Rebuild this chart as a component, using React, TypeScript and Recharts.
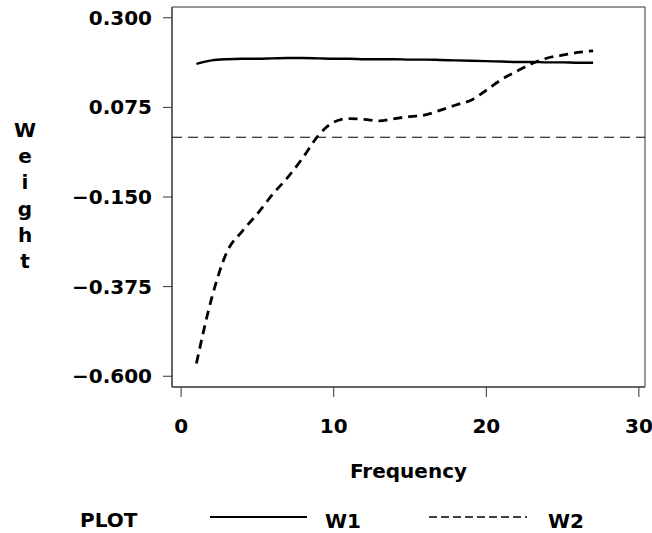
import { LineChart, Line, XAxis, YAxis, ReferenceLine, ReferenceArea } from "recharts"

const frequency = [1, 2, 3, 4, 5, 6, 7, 8, 9, 10, 11, 12, 13, 14, 15, 16, 17, 18, 19, 20, 21, 22, 23, 24, 25, 26, 27]

const w1 = [
  0.184, 0.193, 0.196, 0.197, 0.197, 0.198, 0.199, 0.199, 0.198, 0.197, 0.197, 0.196, 0.196, 0.196,
  0.195, 0.195, 0.194, 0.193, 0.192, 0.191, 0.19, 0.189, 0.189, 0.188, 0.188, 0.187, 0.187,
]

const w2 = [
  -0.568, -0.404, -0.288, -0.236, -0.192, -0.143, -0.1, -0.05, 0.005, 0.038, 0.047, 0.045, 0.041, 0.047,
  0.052, 0.056, 0.068, 0.081, 0.093, 0.118, 0.145, 0.166, 0.185, 0.199, 0.206, 0.213, 0.217,
]

const xTicks = [0, 10, 20, 30]
const yTicks = [0.3, 0.075, -0.15, -0.375, -0.6]
const xDomain = [-0.6, 30.4]
const yDomain = [-0.627, 0.327]

const series = [
  { key: "w1", name: "W1", dash: undefined as string | undefined, legendDash: undefined as string | undefined },
  { key: "w2", name: "W2", dash: "9 6", legendDash: "8 4" },
]

const FONT = "'DejaVu Sans', sans-serif"

const data = frequency.map((f, i) => ({ f, w1: w1[i], w2: w2[i] }))

const fmtY = (v: number) => (v < 0 ? "\u2212" + Math.abs(v).toFixed(3) : v.toFixed(3))

function WeightLabel() {
  const letters = "Weight".split("")
  return (
    <text x={25} y={137} textAnchor="middle" fontFamily={FONT} fontWeight="bold" fontSize={20} fill="#000">
      {letters.map((c, i) => (
        <tspan key={i} x={25} y={137 + i * 26.2}>
          {c}
        </tspan>
      ))}
    </text>
  )
}

function FreqLabel(props: any) {
  const vb = props.viewBox || { x: 172, width: 473, y: 387 }
  return (
    <text
      x={vb.x + vb.width / 2}
      y={478}
      textAnchor="middle"
      fontFamily={FONT}
      fontWeight="bold"
      fontSize={20}
      fill="#000"
    >
      Frequency
    </text>
  )
}

function PlotLegend() {
  const items = [
    { x1: 210, x2: 307, tx: 325 },
    { x1: 429, x2: 527, tx: 548 },
  ]
  return (
    <g>
      <text x={80} y={527} fontFamily={FONT} fontWeight="bold" fontSize={20} fill="#000">
        PLOT
      </text>
      {series.map((s, i) => (
        <g key={s.key}>
          <line
            x1={items[i].x1}
            x2={items[i].x2}
            y1={517}
            y2={517}
            stroke="#000"
            strokeWidth={s.legendDash ? 1.6 : 2.2}
            strokeDasharray={s.legendDash}
          />
          <text x={items[i].tx} y={528} fontFamily={FONT} fontWeight="bold" fontSize={20} fill="#000">
            {s.name}
          </text>
        </g>
      ))}
    </g>
  )
}

export default function App() {
  return (
    <div style={{ position: "absolute", left: 0, top: 0, background: "#fff" }}>
      <LineChart width={652} height={533} data={data} margin={{ top: 7, right: 7, left: 72, bottom: 86 }}>
        <XAxis
          dataKey="f"
          type="number"
          domain={xDomain}
          ticks={xTicks}
          allowDataOverflow
          height={60}
          tickSize={10}
          tickMargin={22}
          stroke="#333"
          tick={{ fill: "#000", fontFamily: FONT, fontWeight: "bold", fontSize: 20 }}
          tickLine={{ stroke: "#333", strokeWidth: 1 }}
          label={<FreqLabel />}
        />
        <YAxis
          type="number"
          domain={yDomain}
          ticks={yTicks}
          allowDataOverflow
          width={100}
          tickSize={9}
          tickMargin={11}
          stroke="#333"
          tickFormatter={fmtY}
          tick={{ fill: "#000", fontFamily: FONT, fontWeight: "bold", fontSize: 20 }}
          tickLine={{ stroke: "#333", strokeWidth: 1 }}
          label={<WeightLabel />}
        />
        <ReferenceArea
          x1={xDomain[0]}
          x2={xDomain[1]}
          y1={yDomain[0]}
          y2={yDomain[1]}
          fill="none"
          fillOpacity={0}
          stroke="#333"
          strokeWidth={1}
          ifOverflow="visible"
        />
        <ReferenceLine y={0} stroke="#000" strokeWidth={1} strokeDasharray="10 6" />
        {series.map((s) => (
          <Line
            key={s.key}
            dataKey={s.key}
            name={s.name}
            type="monotone"
            stroke="#000"
            strokeWidth={s.dash ? 2.8 : 2.4}
            strokeDasharray={s.dash}
            dot={false}
            activeDot={false}
            isAnimationActive={false}
          />
        ))}
        <PlotLegend />
      </LineChart>
    </div>
  )
}
